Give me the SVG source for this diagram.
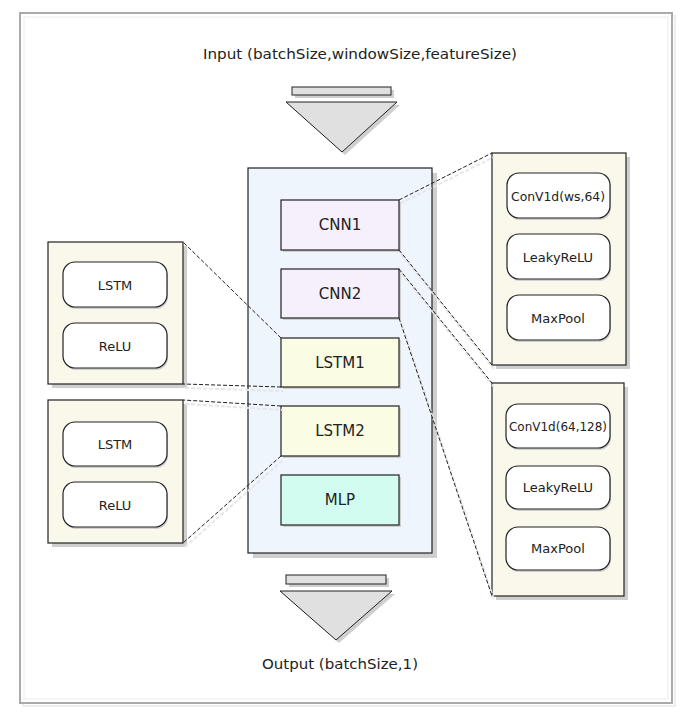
<svg xmlns="http://www.w3.org/2000/svg" width="693" height="719" viewBox="0 0 693 719">
<style>
text{font-family:"DejaVu Sans","Liberation Sans",sans-serif;fill:#222;text-anchor:middle;dominant-baseline:central}
.big{font-size:14px}
.mid{font-size:15px}
.sm{font-size:13px}
.shadow{fill:#cfcfcf;stroke:none}
.panel{fill:#faf7eb;stroke:#222;stroke-width:1.2}
.pill{fill:#fff;stroke:#222;stroke-width:1.2}
.cnn{fill:#f5f0fc;stroke:#222;stroke-width:1.2}
.lstm{fill:#fafce3;stroke:#222;stroke-width:1.2}
.mlp{fill:#d2fcef;stroke:#222;stroke-width:1.2}
.arr{fill:#e0e0e0;stroke:#222;stroke-width:1}
.dash{fill:none;stroke:#222;stroke-width:1;stroke-dasharray:4 2}
.dsh{fill:none;stroke:#e6e6e6;stroke-width:2;stroke-dasharray:4 2}
</style>
<rect width="693" height="719" fill="#fff"/>
<g id="frame">
<rect x="23" y="16" width="652" height="690" fill="none" stroke="#eee" stroke-width="2"/>
<rect x="20" y="13" width="652" height="690" fill="#fff" stroke="#aaa" stroke-width="2"/>
<rect x="24" y="17" width="644" height="682" fill="none" stroke="#f2f2f2" stroke-width="1.5"/>
</g>
<g id="input">
<text class="big" x="360" y="54" textLength="314" lengthAdjust="spacingAndGlyphs">Input (batchSize,windowSize,featureSize)</text>
<rect class="shadow" x="295" y="90" width="99" height="8"/>
<polygon class="shadow" points="289,105 400,105 345,155"/>
<rect class="arr" x="292" y="87" width="99" height="8"/>
<polygon class="arr" points="286,102 397,102 342,152"/>
</g>
<g id="container">
<rect class="shadow" x="253" y="173" width="184" height="385"/>
<rect x="248" y="168" width="184" height="385" fill="#eef5fc" stroke="#222" stroke-width="1.2"/>
</g>
<g id="cnn1">
<rect class="shadow" x="283" y="202" width="118" height="50"/>
<rect class="cnn" x="281" y="200" width="118" height="50"/>
<text class="mid" x="340" y="225">CNN1</text>
</g>
<g id="cnn2">
<rect class="shadow" x="283" y="271" width="118" height="49"/>
<rect class="cnn" x="281" y="269" width="118" height="49"/>
<text class="mid" x="340" y="294">CNN2</text>
</g>
<g id="lstm1">
<rect class="shadow" x="283" y="340" width="118" height="49"/>
<rect class="lstm" x="281" y="338" width="118" height="49"/>
<text class="mid" x="340" y="363">LSTM1</text>
</g>
<g id="lstm2">
<rect class="shadow" x="283" y="408" width="118" height="50"/>
<rect class="lstm" x="281" y="406" width="118" height="50"/>
<text class="mid" x="340" y="431">LSTM2</text>
</g>
<g id="mlp">
<rect class="shadow" x="283" y="477" width="118" height="50"/>
<rect class="mlp" x="281" y="475" width="118" height="50"/>
<text class="mid" x="340" y="500">MLP</text>
</g>
<g id="lstm1-detail">
<rect class="shadow" x="52" y="246" width="135" height="142"/>
<rect class="panel" x="48" y="242" width="135" height="142"/>
<rect class="shadow" x="64" y="264" width="104" height="45" rx="12"/>
<rect class="pill" x="63" y="262" width="104" height="45" rx="12"/>
<text class="sm" x="115" y="285">LSTM</text>
<rect class="shadow" x="64" y="325" width="104" height="45" rx="12"/>
<rect class="pill" x="63" y="323" width="104" height="45" rx="12"/>
<text class="sm" x="115" y="346">ReLU</text>
</g>
<g id="lstm2-detail">
<rect class="shadow" x="52" y="404" width="135" height="143"/>
<rect class="panel" x="48" y="400" width="135" height="143"/>
<rect class="shadow" x="64" y="424" width="104" height="44" rx="12"/>
<rect class="pill" x="63" y="422" width="104" height="44" rx="12"/>
<text class="sm" x="115" y="444">LSTM</text>
<rect class="shadow" x="64" y="484" width="104" height="45" rx="12"/>
<rect class="pill" x="63" y="482" width="104" height="45" rx="12"/>
<text class="sm" x="115" y="505">ReLU</text>
</g>
<g id="cnn1-detail">
<rect class="shadow" x="496" y="157" width="134" height="212"/>
<rect class="panel" x="492" y="153" width="134" height="212"/>
<rect class="shadow" x="508" y="175" width="103" height="45" rx="12"/>
<rect class="pill" x="507" y="173" width="103" height="45" rx="12"/>
<text class="sm" x="558" y="196" textLength="94" lengthAdjust="spacingAndGlyphs">ConV1d(ws,64)</text>
<rect class="shadow" x="508" y="236" width="103" height="45" rx="12"/>
<rect class="pill" x="507" y="234" width="103" height="45" rx="12"/>
<text class="sm" x="558" y="257">LeakyReLU</text>
<rect class="shadow" x="508" y="297" width="103" height="45" rx="12"/>
<rect class="pill" x="507" y="295" width="103" height="45" rx="12"/>
<text class="sm" x="558" y="318">MaxPool</text>
</g>
<g id="cnn2-detail">
<rect class="shadow" x="496" y="387" width="132" height="213"/>
<rect class="panel" x="492" y="383" width="132" height="213"/>
<rect class="shadow" x="507" y="406" width="104" height="44" rx="12"/>
<rect class="pill" x="506" y="404" width="104" height="44" rx="12"/>
<text class="sm" x="558" y="426" textLength="98" lengthAdjust="spacingAndGlyphs">ConV1d(64,128)</text>
<rect class="shadow" x="507" y="468" width="104" height="43" rx="12"/>
<rect class="pill" x="506" y="466" width="104" height="43" rx="12"/>
<text class="sm" x="558" y="487">LeakyReLU</text>
<rect class="shadow" x="507" y="529" width="104" height="43" rx="12"/>
<rect class="pill" x="506" y="527" width="104" height="43" rx="12"/>
<text class="sm" x="558" y="548">MaxPool</text>
</g>
<g id="output">
<rect class="shadow" x="289" y="578" width="100" height="9"/>
<polygon class="shadow" points="283,594 395,594 339,643"/>
<rect class="arr" x="286" y="575" width="100" height="9"/>
<polygon class="arr" points="280,591 392,591 336,640"/>
<text class="big" x="340" y="664" textLength="156" lengthAdjust="spacingAndGlyphs">Output (batchSize,1)</text>
</g>
<g id="connectors">
<line class="dsh" x1="401" y1="203" x2="494" y2="157"/>
<line class="dsh" x1="401" y1="254" x2="494" y2="369"/>
<line class="dsh" x1="401" y1="273" x2="494" y2="387"/>
<line class="dsh" x1="401" y1="322" x2="494" y2="600"/>
<line class="dsh" x1="185" y1="388" x2="283" y2="391"/>
<line class="dsh" x1="185" y1="404" x2="283" y2="410"/>
<line class="dsh" x1="185" y1="547" x2="283" y2="460"/>
<line class="dash" x1="399" y1="200" x2="492" y2="153"/>
<line class="dash" x1="399" y1="250" x2="492" y2="365"/>
<line class="dash" x1="399" y1="269" x2="492" y2="383"/>
<line class="dash" x1="399" y1="318" x2="492" y2="596"/>
<line class="dash" x1="281" y1="338" x2="183" y2="242"/>
<line class="dash" x1="281" y1="387" x2="183" y2="384"/>
<line class="dash" x1="281" y1="406" x2="183" y2="400"/>
<line class="dash" x1="281" y1="456" x2="183" y2="543"/>
</g>
</svg>
